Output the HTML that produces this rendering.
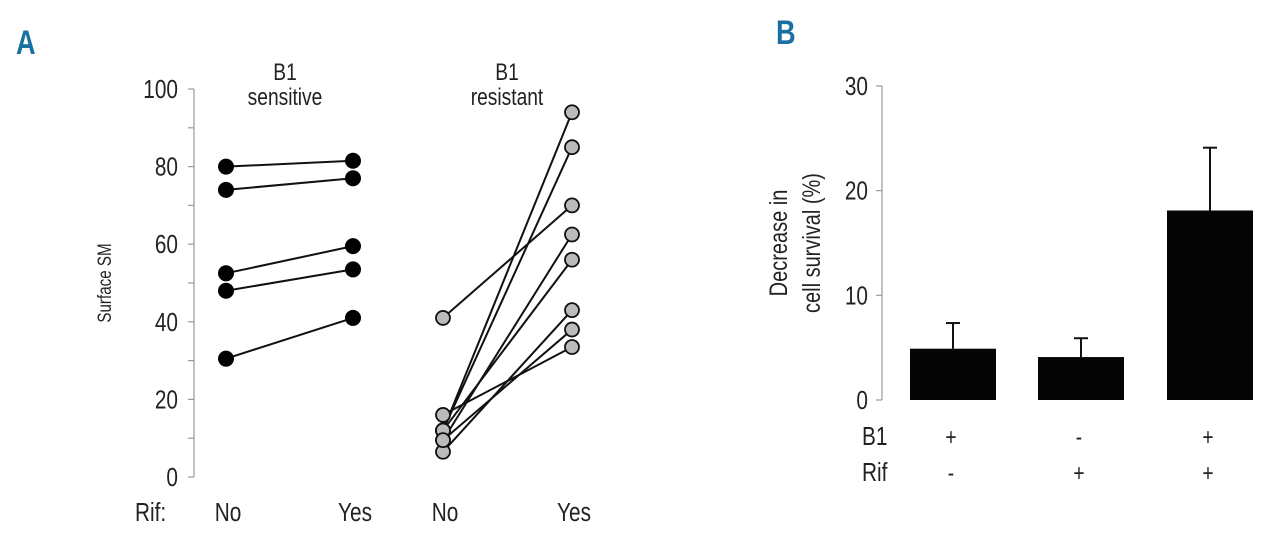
<!DOCTYPE html>
<html><head><meta charset="utf-8"><style>
body{margin:0;background:#fff;width:1280px;height:544px;overflow:hidden}
svg text{font-family:"Liberation Sans Narrow","Liberation Sans",sans-serif;fill:#222}
</style></head><body>
<svg id="chart" width="1280" height="544">
<text transform="translate(16,54) scale(0.8,1)" font-size="34" font-weight="bold" style="fill:#1a6fa3">A</text>
<text transform="translate(776,44) scale(0.8,1)" font-size="34" font-weight="bold" style="fill:#1a6fa3">B</text>
<g id="pa"></g>
<g id="pb"></g>
</svg>
<script>
const ns="http://www.w3.org/2000/svg";
function mk(p,t,a,txt){const e=document.createElementNS(ns,t);for(const k in a)e.setAttribute(k,a[k]);if(txt!==undefined)e.textContent=txt;p.appendChild(e);return e;}
// condensed text: x,y anchor, optional rotation
function tx(p,x,y,size,str,anchor,rot){const tr='translate('+x+','+y+')'+(rot?' rotate('+rot+')':'')+' scale(0.8,1)';
return mk(p,'text',{transform:tr,'font-size':size,'text-anchor':anchor||'start'},str);}
// Panel A data
const sensNo=[80,74,52.5,48,30.5];
const sensYes=[81.5,77,59.5,53.5,41];
const resNo=[41,16,12,12,9.5,12,6.5,9.5];
const resYes=[70,33.5,94,85,62.5,56,43,38];
const aTicks=[0,20,40,60,80,100];
const aGroups=["No","Yes","No","Yes"];
// Panel B data
const bCats=["b1-only","rif-only","b1-rif"];
const bVals=[4.9,4.1,18.1];
const bErr=[7.35,5.9,24.1];
const bB1=["+","-","+"];
const bRif=["-","+","+"];
const bTicks=[0,10,20,30];

const pa=document.getElementById('pa');
const ay=v=>477-v*3.88;
const ax=[226,353,443,572];
let e=mk(pa,'line',{x1:194,y1:ay(100),x2:194,y2:ay(0),stroke:'#999','stroke-width':1.2});


for(let v=0;v<=100;v+=10){mk(pa,'line',{x1:188,x2:194,y1:ay(v),y2:ay(v),stroke:'#999','stroke-width':1.2});}
aTicks.forEach(v=>{e=tx(pa,178,ay(v)+9,26,v,'end');

});
e=tx(pa,111,283,19,'Surface SM','middle',-90);


[["B1",285,80],["sensitive",285,105],["B1",507,80],["resistant",507,105]].forEach(a=>{e=tx(pa,a[1],a[2],24,a[0],'middle');

});
e=tx(pa,135,521,26,'Rif:');


aGroups.forEach((g,i)=>{e=tx(pa,ax[i]+2,521,26,g,'middle');

});
sensNo.forEach((v,i)=>{e=mk(pa,'line',{x1:ax[0],y1:ay(v),x2:ax[1],y2:ay(sensYes[i]),stroke:'#111','stroke-width':2});

});
resNo.forEach((v,i)=>{e=mk(pa,'line',{x1:ax[2],y1:ay(v),x2:ax[3],y2:ay(resYes[i]),stroke:'#111','stroke-width':2});

});
sensNo.forEach((v,i)=>{[[ax[0],v],[ax[1],sensYes[i]]].forEach(p=>{e=mk(pa,'circle',{cx:p[0],cy:ay(p[1]),r:8,fill:'#000'});

});});
resNo.forEach((v,i)=>{[[ax[2],v],[ax[3],resYes[i]]].forEach(p=>{e=mk(pa,'circle',{cx:p[0],cy:ay(p[1]),r:7,fill:'#bbb',stroke:'#111','stroke-width':1.8});

});});

const pb=document.getElementById('pb');
const by=v=>400-v*10.47;
const bx=[910,1038,1167],bw=86;
e=mk(pb,'line',{x1:882,y1:by(30),x2:882,y2:by(0),stroke:'#999','stroke-width':1.2});


bTicks.forEach(v=>{mk(pb,'line',{x1:876,x2:882,y1:by(v),y2:by(v),stroke:'#999','stroke-width':1.2});
e=tx(pb,868,by(v)+9,26,v,'end');

});
e=tx(pb,787,243,25,'Decrease in','middle',-90);


e=tx(pb,820,243,25,'cell survival (%)','middle',-90);


bVals.forEach((v,i)=>{const c=bx[i]+bw/2;
e=mk(pb,'line',{x1:c,x2:c,y1:by(v),y2:by(bErr[i]),stroke:'#111','stroke-width':2});


mk(pb,'line',{x1:c-7,x2:c+7,y1:by(bErr[i]),y2:by(bErr[i]),stroke:'#111','stroke-width':2});
e=mk(pb,'rect',{x:bx[i],y:by(v),width:bw,height:by(0)-by(v),fill:'#050505'});


e=tx(pb,c-2,445,24,bB1[i],'middle');


e=tx(pb,c-2,481,24,bRif[i],'middle');

});
e=tx(pb,862,445,26,'B1');


e=tx(pb,862,481,26,'Rif');


</script>
</body></html>
